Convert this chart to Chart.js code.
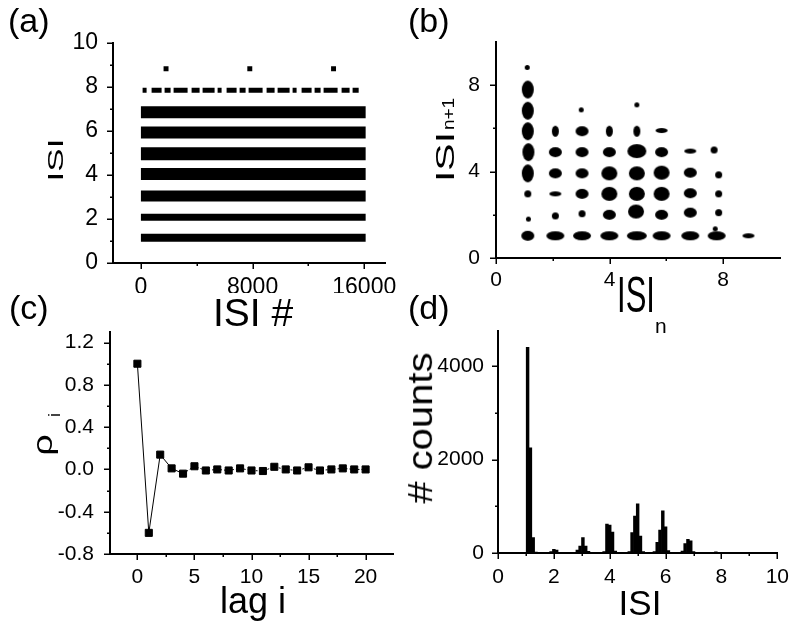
<!DOCTYPE html>
<html>
<head>
<meta charset="utf-8">
<title>ISI statistics</title>
<script src="https://cdn.jsdelivr.net/npm/chart.js@4.4.1/dist/chart.umd.min.js"></script>
<style>
  body { margin: 0; background: #fff; }
  #fig { position: relative; width: 793px; height: 625px; overflow: hidden;
         font-family: 'Liberation Sans', Arial, sans-serif; color: #000; }
  #fig canvas { position: absolute; }
  .t { position: absolute; white-space: nowrap; line-height: 1; pointer-events: none; }
</style>
</head>
<body>
<div id="fig">
  <canvas id="chartA" width="400" height="310" style="left:0;top:0"></canvas>
  <canvas id="chartB" width="393" height="310" style="left:400px;top:0"></canvas>
  <canvas id="chartC" width="400" height="315" style="left:0;top:310px"></canvas>
  <canvas id="chartD" width="393" height="315" style="left:400px;top:310px"></canvas>

  <!-- 面板编号 -->
  <div class="t" style="left:8px;top:3px;font-size:34px">(a)</div>
  <div class="t" style="left:408px;top:3px;font-size:34px">(b)</div>
  <div class="t" style="left:9px;top:290px;font-size:34px">(c)</div>
  <div class="t" style="left:408px;top:290px;font-size:34px">(d)</div>

  <!-- 坐标轴标题 -->
  <div class="t" style="left:253px;top:293px;font-size:39px;transform:translateX(-50%)">ISI #</div>
  <div class="t" style="left:55px;top:160px;font-size:35px;transform:translate(-50%,-50%) rotate(-90deg) scaleY(0.64)">ISI</div>

  <div class="t" style="left:636px;top:270px;font-size:50px;transform:translateX(-50%) scaleX(0.62)">ISI</div>
  <div class="t" style="left:655px;top:315px;font-size:21px">n</div>
  <div class="t" style="left:446px;top:157px;font-size:41px;transform:translate(-50%,-50%) rotate(-90deg) scaleY(0.62)">ISI</div>
  <div class="t" style="left:448px;top:114px;font-size:19px;transform:translate(-50%,-50%) rotate(-90deg) scaleY(0.85)">n+1</div>

  <div class="t" style="left:253px;top:583px;font-size:36px;transform:translateX(-50%)">lag i</div>
  <div class="t" style="left:43px;top:445px;font-size:38px;transform:translate(-50%,-50%) rotate(-90deg) scaleY(0.72)">ρ</div>
  <div class="t" style="left:55px;top:415px;font-size:16px;transform:translate(-50%,-50%) rotate(-90deg)">i</div>

  <div class="t" style="left:640px;top:585px;font-size:35px;transform:translateX(-50%)">ISI</div>
  <div class="t" style="left:420px;top:428px;font-size:40px;transform:translate(-50%,-50%) rotate(-90deg) scaleY(0.86)"># counts</div>
</div>

<script>
// ===== (a) ISI 序列 =====
const bandLevels = [1.15, 2.08, 3.05, 4.04, 4.97, 5.93, 6.85];   // 各条带的 ISI 值
const bandSpan = [0, 16100];                                      // ISI # 起止
const sparseLevel = 7.85;
const spikeIdx = [1800, 7800, 13800];
const spikeISI = [8.83, 8.83, 8.83];
const aTicksX = [0, 8000, 16000], aMinorX = [4000, 12000];
const aTicksY = [0, 2, 4, 6, 8, 10], aMinorY = [1, 3, 5, 7, 9];
const bandPx = [8, 7, 11, 12, 13, 12, 12];   // 条带粗细 (px)

// ===== (b) 回归映射 ISI_n -> ISI_n+1 =====
const retX = [
  1.12, 1.14, 1.12, 1.12, 1.14, 1.12, 1.12, 1.12, 1.10,
  2.09, 2.09, 2.09, 2.09, 2.09, 2.09,
  3.03, 3.03, 3.03, 3.03, 3.03, 3.03, 3.00,
  3.99, 3.99, 3.99, 3.99, 3.99, 3.99,
  4.96, 4.93, 4.96, 4.96, 4.96, 4.96, 4.96,
  5.83, 5.83, 5.83, 5.83, 5.83, 5.83,
  6.84, 6.84, 6.84, 6.84, 6.84,
  7.77, 7.72, 7.84, 7.84, 7.84, 7.68,
  8.89
];
const retY = [
  1.03, 1.80, 2.97, 3.92, 4.90, 5.87, 6.82, 7.80, 8.82,
  1.03, 1.95, 2.97, 3.92, 4.90, 5.87,
  1.03, 2.05, 2.97, 3.92, 4.90, 5.87, 6.86,
  1.03, 2.00, 2.97, 3.92, 4.90, 5.87,
  1.03, 2.15, 2.97, 3.92, 4.95, 5.87, 7.09,
  1.03, 2.00, 2.97, 3.95, 4.90, 5.90,
  1.03, 2.10, 3.00, 3.95, 4.95,
  1.03, 1.35, 2.10, 2.97, 3.85, 5.00,
  1.03
];
const retKind = [
  'M', 'D', 'S', 'V', 'V', 'V', 'V', 'V', 'D',
  'W', 'S', 'H', 'M', 'M', 'T',
  'W', 'S', 'M', 'M', 'M', 'M', 'D',
  'W', 'M', 'B', 'B', 'M', 'T',
  'W2', 'B', 'B', 'B', 'BW', 'T', 'D',
  'W', 'M', 'B', 'B', 'M', 'H',
  'W', 'M', 'M', 'M', 'H',
  'W', 'D', 'S', 'S', 'S', 'S',
  'H'
];
const bTicks = [0, 4, 8], bMinor = [2, 6];

// ===== (c) 自相关 =====
const lags = [0, 1, 2, 3, 4, 5, 6, 7, 8, 9, 10, 11, 12, 13, 14, 15, 16, 17, 18, 19, 20];
const rho = [1.0, -0.6, 0.14, 0.01, -0.04, 0.03, -0.01, 0.0, -0.01, 0.01, -0.01,
             -0.015, 0.025, 0.0, -0.01, 0.02, -0.01, 0.0, 0.01, 0.0, 0.0];
const cTicksX = [0, 5, 10, 15, 20], cMinorX = [2.5, 7.5, 12.5, 17.5];
const cTicksY = [-0.8, -0.4, 0, 0.4, 0.8, 1.2], cMinorY = [-0.6, -0.2, 0.2, 0.6, 1.0];

// ===== (d) ISI 直方图 (bin 宽 0.1) =====
const histBins = [1.06, 1.16, 1.26, 1.36,
                  1.9, 2.0, 2.1, 2.2,
                  2.84, 2.94, 3.04, 3.14, 3.24,
                  3.8, 3.9, 4.0, 4.1, 4.2,
                  4.7, 4.8, 4.9, 5.0, 5.1, 5.2,
                  5.6, 5.7, 5.8, 5.9, 6.0, 6.1,
                  6.6, 6.7, 6.8, 6.9, 7.0,
                  7.7, 7.8, 7.9];
const histCounts = [4400, 2250, 330, 20,
                    30, 80, 60, 15,
                    60, 150, 330, 150, 35,
                    30, 620, 600, 450, 40,
                    30, 435, 790, 1050, 364, 30,
                    30, 230, 490, 900, 560, 50,
                    40, 200, 290, 260, 30,
                    15, 25, 10];
const dTicksX = [0, 2, 4, 6, 8, 10], dMinorX = [1, 3, 5, 7, 9];
const dTicksY = [0, 2000, 4000], dMinorY = [1000, 3000];

Chart.defaults.font.family = "'Liberation Sans', Arial, sans-serif";
Chart.defaults.font.size = 21;
Chart.defaults.color = '#000';
Chart.defaults.animation = false;
Chart.defaults.events = [];

const narrowFont = { family: "'Liberation Sans Narrow', 'Arial Narrow', 'Liberation Sans', Arial, sans-serif", size: 23 };

// 主/次刻度线（朝外）
const tickMarks = {
  id: 'tickMarks',
  afterDraw(chart, args, opts) {
    const ctx = chart.ctx;
    const { left, bottom } = chart.chartArea;
    ctx.save();
    ctx.strokeStyle = '#000';
    ctx.lineWidth = 1.5;
    ['x', 'y'].forEach(id => {
      const s = chart.scales[id];
      const spec = opts[id];
      [[spec.major, 6], [spec.minor, 3]].forEach(([vals, len]) => {
        vals.forEach(v => {
          const p = Math.round(s.getPixelForValue(v)) + 0.25;
          ctx.beginPath();
          if (id === 'x') { ctx.moveTo(p, bottom); ctx.lineTo(p, bottom + len); }
          else { ctx.moveTo(left, p); ctx.lineTo(left - len, p); }
          ctx.stroke();
        });
      });
    });
    ctx.restore();
  }
};

function axis(min, max, majors, fmt, fit, pad, font) {
  const ticks = { padding: pad, autoSkip: false, maxRotation: 0, callback: fmt };
  if (font) ticks.font = font;
  return {
    type: 'linear', min, max, offset: false,
    grid: { display: false, offset: false },
    border: { display: true, color: '#000', width: 2 },
    ticks,
    afterBuildTicks: s => { s.ticks = majors.map(v => ({ value: v })); },
    afterFit: fit
  };
}
const plain = v => String(v);

function baseOptions(padding, scales, marks) {
  return {
    responsive: false,
    layout: { padding },
    scales,
    plugins: { legend: { display: false }, tooltip: { enabled: false }, tickMarks: marks }
  };
}

// (a)
const aSets = bandLevels.map((lvl, i) => ({
  data: [{ x: bandSpan[0], y: lvl }, { x: bandSpan[1], y: lvl }],
  showLine: true, borderColor: '#000', borderWidth: bandPx[i], pointRadius: 0
}));
aSets.push({
  data: [{ x: 120, y: sparseLevel }, { x: bandSpan[1] - 500, y: sparseLevel }],
  showLine: true, borderColor: '#000', borderWidth: 5, pointRadius: 0,
  borderDash: [4, 5, 10, 3, 6, 3, 14, 4, 8, 3, 12, 3]
});
aSets.push({
  data: spikeIdx.map((x, i) => ({ x, y: spikeISI[i] })),
  pointStyle: 'rect', pointRadius: 3.5, backgroundColor: '#000', borderWidth: 0
});
new Chart(document.getElementById('chartA'), {
  type: 'scatter',
  data: { datasets: aSets },
  options: baseOptions({ left: 50, right: 10, top: 43, bottom: 17 }, {
    x: axis(-2000, 17500, aTicksX, plain, s => { s.height = 30; }, 3, narrowFont),
    y: axis(0, 10, aTicksY, plain, s => { s.width = 63; }, 7, narrowFont)
  }, { x: { major: aTicksX, minor: aMinorX }, y: { major: aTicksY, minor: aMinorY } }),
  plugins: [tickMarks]
});

// (b) 斑点形状（椭圆）
function blob(w, h) {
  const c = document.createElement('canvas');
  c.width = w + 2; c.height = h + 2;
  const g = c.getContext('2d');
  g.fillStyle = '#000';
  g.beginPath();
  g.ellipse((w + 2) / 2, (h + 2) / 2, w / 2, h / 2, 0, 0, Math.PI * 2);
  g.fill();
  return c;
}
const blobs = {
  W: blob(18, 9), W2: blob(20, 9), B: blob(16, 14), BW: blob(19, 14), M: blob(13, 10),
  S: blob(7, 7), H: blob(12, 5), T: blob(7, 11), D: blob(5, 5), V: blob(12, 18)
};
new Chart(document.getElementById('chartB'), {
  type: 'scatter',
  data: {
    datasets: [{
      data: retX.map((x, i) => ({ x, y: retY[i] })),
      pointStyle: ctx => blobs[retKind[ctx.dataIndex]],
      pointRadius: 3
    }]
  },
  options: baseOptions({ left: 50, right: 13, top: 42, bottom: 22 }, {
    x: axis(0, 10, bTicks, plain, s => { s.height = 30; }, 2),
    y: axis(0, 10, bTicks, plain, s => { s.width = 46; }, 8)
  }, { x: { major: bTicks, minor: bMinor }, y: { major: bTicks, minor: bMinor } }),
  plugins: [tickMarks]
});

// (c)
new Chart(document.getElementById('chartC'), {
  type: 'scatter',
  data: {
    datasets: [{
      data: lags.map((x, i) => ({ x, y: rho[i] })),
      showLine: true, borderColor: '#000', borderWidth: 1,
      segment: { borderDash: ctx => ctx.p0DataIndex >= 4 ? [2, 2] : undefined },
      pointStyle: 'rect', pointRadius: 5, backgroundColor: '#000', borderWidth: 1
    }]
  },
  options: baseOptions({ left: 40, right: 7, top: 22, bottom: 41 }, {
    x: axis(-2.4, 22.4, cTicksX, plain, s => { s.height = 30; }, 3),
    y: axis(-0.8, 1.3, cTicksY, v => v.toFixed(1), s => { s.width = 70; }, 8)
  }, { x: { major: cTicksX, minor: cMinorX }, y: { major: cTicksY, minor: cMinorY } }),
  plugins: [tickMarks]
});

// (d)
new Chart(document.getElementById('chartD'), {
  type: 'bar',
  data: {
    datasets: [{
      data: histBins.map((x, i) => ({ x, y: histCounts[i] })),
      backgroundColor: '#000', borderWidth: 0,
      barPercentage: 1, categoryPercentage: 1
    }]
  },
  options: baseOptions({ left: 30, right: 11, top: 21, bottom: 42 }, {
    x: axis(0, 10, dTicksX, plain, s => { s.height = 30; }, 4),
    y: axis(0, 4750, dTicksY, plain, s => { s.width = 68; }, 6)
  }, { x: { major: dTicksX, minor: dMinorX }, y: { major: dTicksY, minor: dMinorY } }),
  plugins: [tickMarks]
});
</script>
</body>
</html>
